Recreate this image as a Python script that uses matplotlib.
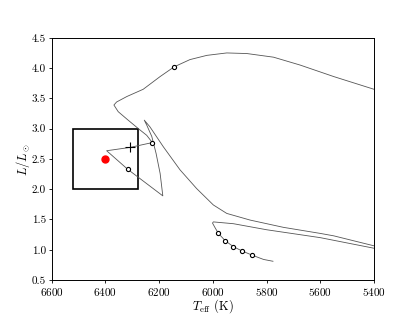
import matplotlib
matplotlib.use("Agg")
import matplotlib.pyplot as plt
from matplotlib.patches import Rectangle

plt.rcParams['font.family'] = 'serif'
plt.rcParams['font.serif'] = ['cmr10']
plt.rcParams['mathtext.fontset'] = 'cm'
plt.rcParams['axes.formatter.use_mathtext'] = True

# evolutionary track (Teff in K, L in Lsun)
upper_teff = [5400, 5550, 5675, 5774, 5873, 5948, 6022, 6085, 6144, 6196, 6259, 6320,
              6358, 6368, 6352, 6315, 6277, 6246, 6225,
              6308, 6395, 6317, 6186,
              6196, 6211, 6227, 6246, 6255,
              6234, 6184, 6122, 6060, 5998, 5948, 5861, 5737, 5600, 5550, 5400]
upper_lum = [3.65, 3.86, 4.05, 4.18, 4.24, 4.25, 4.21, 4.14, 4.02, 3.86, 3.65, 3.53,
             3.44, 3.39, 3.28, 3.14, 3.00, 2.89, 2.77,
             2.69, 2.635, 2.33, 1.89,
             2.26, 2.59, 2.87, 3.06, 3.14,
             3.03, 2.70, 2.32, 2.01, 1.74, 1.60, 1.49, 1.37, 1.27, 1.23, 1.065]

lower_teff = [5400, 5600, 5799, 5923, 5973, 5998, 6001, 5991, 5979, 5954, 5923, 5891, 5853, 5811, 5776]
lower_lum = [1.025, 1.20, 1.33, 1.43, 1.45, 1.46, 1.44, 1.36, 1.27, 1.15, 1.05, 0.98, 0.91, 0.84, 0.81]

# open circles marked along the track
circ_teff = [6144, 6225, 6317, 5979, 5954, 5923, 5891, 5853]
circ_lum = [4.02, 2.77, 2.33, 1.27, 1.15, 1.05, 0.98, 0.91]

# cross and observed star
cross_teff, cross_lum = 6308, 2.69
star_teff, star_lum = 6400, 2.5
box_teff = [6520, 6280]
box_lum = [2.0, 3.0]

fig = plt.figure(figsize=(4.16, 3.15), dpi=100)
ax = fig.add_axes([0.124, 0.111, 0.775, 0.769])

ax.plot(upper_teff, upper_lum, color='#555555', lw=0.6)
ax.plot(lower_teff, lower_lum, color='#555555', lw=0.6)
ax.plot(circ_teff, circ_lum, 'o', mfc='white', mec='black', ms=3, mew=0.8, ls='none')
ax.plot(cross_teff, cross_lum, '+', color='black', ms=7, mew=0.8)
ax.plot(star_teff, star_lum, 'o', color='red', ms=5)

ax.add_patch(Rectangle((box_teff[1], box_lum[0]), box_teff[0] - box_teff[1],
                       box_lum[1] - box_lum[0], fill=False, ec='black', lw=1.2))

ax.set_xlim(6600, 5400)
ax.set_ylim(0.5, 4.5)
ax.set_xticks(range(6600, 5399, -200))
ax.set_yticks([0.5, 1.0, 1.5, 2.0, 2.5, 3.0, 3.5, 4.0, 4.5])
ax.set_yticklabels(['0.5', '1.0', '1.5', '2.0', '2.5', '3.0', '3.5', '4.0', '4.5'])
ax.tick_params(labelsize=8, length=2.5, width=0.6, pad=1.5)
for s in ax.spines.values():
    s.set_linewidth(0.7)

ax.set_xlabel(r'$T_{\rm eff}$ (K)', fontsize=9, labelpad=0)
ax.set_ylabel(r'$L/L_\odot$', fontsize=9, labelpad=0)

fig.savefig('out.png', dpi=100)
